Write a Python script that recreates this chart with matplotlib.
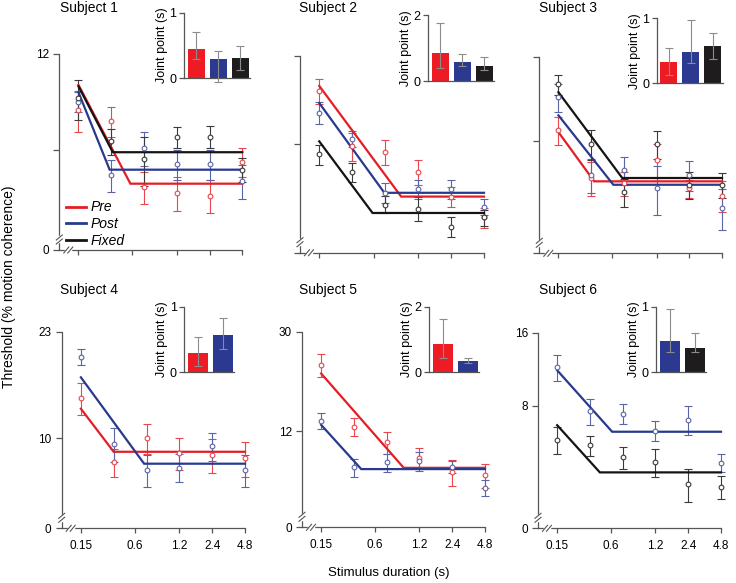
import numpy as np
import matplotlib.pyplot as plt
from matplotlib.lines import Line2D
from matplotlib.ticker import NullLocator

plt.rcParams['font.family'] = ['Liberation Sans', 'DejaVu Sans']

W, H = 736, 583

# stimulus durations (s) and x tick marks as drawn in the original
durations = [0.15, 0.3, 0.6, 1.2, 2.4, 4.8]
tick_pos = [0.15, 0.47, 1.2, 2.4, 4.8]
tick_labels = ['0.15', '0.6', '1.2', '2.4', '4.8']

# ---- Subject 1 (pre, post, fixed)
s1_pre = [8.0, 7.4, 4.6, 4.4, 4.3, 5.5]
s1_pre_err = [1.16, 0.8, 0.53, 0.54, 0.51, 0.58]
s1_post = [8.5, 5.0, 6.1, 5.4, 5.4, 4.8]
s1_post_err = [0.61, 0.56, 0.75, 0.58, 0.58, 0.59]
s1_fixed = [8.7, 6.4, 5.6, 6.6, 6.6, 5.2]
s1_fixed_err = [1.25, 0.6, 0.97, 0.5, 0.52, 0.45]
s1_fit_start = [9.6, 9.1, 9.5]
s1_fit_plateau = [4.7, 5.2, 5.9]
s1_joint = [0.45, 0.29, 0.31]
s1_joint_lo = [0.29, -0.05, 0.12]
s1_joint_hi = [0.70, 0.41, 0.50]

# ---- Subject 2
s2_pre = [7.6, 4.9, 4.7, 4.0, 3.3, 2.8]
s2_pre_err = [0.75, 0.54, 0.46, 0.39, 0.25, 0.22]
s2_post = [6.4, 5.2, 3.4, 3.5, 3.5, 3.05]
s2_post_err = [0.55, 0.33, 0.27, 0.25, 0.27, 0.19]
s2_fixed = [4.6, 4.0, 3.1, 3.0, 2.6, 2.8]
s2_fixed_err = [0.36, 0.31, 0.21, 0.28, 0.21, 0.18]
s2_fit_start = [7.9, 6.9, 5.1]
s2_fit_plateau = [3.3, 3.4, 2.9]
s2_joint = [0.84, 0.59, 0.46]
s2_joint_lo = [0.38, 0.45, 0.33]
s2_joint_hi = [1.77, 0.81, 0.72]

# ---- Subject 3
s3_pre = [5.5, 3.7, 3.55, 4.3, 3.4, 3.2]
s3_pre_err = [0.64, 0.52, 0.35, 0.59, 0.25, 0.40]
s3_post = [7.2, 3.8, 3.95, 3.4, 3.8, 2.9]
s3_post_err = [0.83, 0.54, 0.46, 0.67, 0.47, 0.48]
s3_fixed = [8.0, 4.9, 3.3, 4.9, 3.5, 3.5]
s3_fixed_err = [0.66, 0.61, 0.38, 0.57, 0.38, 0.35]
s3_fit_start = [5.4, 6.2, 7.5]
s3_fit_plateau = [3.6, 3.5, 3.7]
s3_joint = [0.32, 0.48, 0.58]
s3_joint_lo = [0.13, 0.31, 0.37]
s3_joint_hi = [0.54, 0.98, 0.78]

# ---- Subject 4 (pre, post)
s4_pre = [13.7, 8.3, 10.0, 8.9, 8.8, 8.55]
s4_pre_err = [1.71, 0.91, 1.17, 1.11, 1.17, 1.14]
s4_post = [18.9, 9.6, 7.8, 7.96, 9.4, 7.8]
s4_post_err = [1.18, 1.28, 0.98, 0.87, 1.03, 0.98]
s4_fit_start = [12.6, 16.1]
s4_fit_plateau = [9.0, 8.2]
s4_joint = [0.30, 0.57]
s4_joint_lo = [0.10, 0.35]
s4_joint_hi = [0.54, 0.83]

# ---- Subject 5 (pre, post)
s5_pre = [22.1, 12.5, 10.8, 9.4, 8.2, 8.0]
s5_pre_err = [2.34, 1.04, 1.05, 0.87, 0.95, 0.89]
s5_post = [13.2, 8.6, 9.0, 9.1, 8.6, 7.1]
s5_post_err = [0.97, 0.71, 0.75, 0.81, 0.48, 0.52]
s5_fit_start = [20.4, 12.7]
s5_fit_plateau = [8.55, 8.45]
s5_joint = [0.86, 0.35]
s5_joint_lo = [0.45, 0.27]
s5_joint_hi = [1.64, 0.45]

# ---- Subject 6 (post, fixed)
s6_post = [11.5, 7.6, 7.4, 6.3, 7.0, 4.65]
s6_post_err = [1.42, 0.94, 0.70, 0.60, 0.96, 0.40]
s6_fixed = [5.8, 5.5, 4.9, 4.7, 3.8, 3.7]
s6_fixed_err = [0.75, 0.52, 0.51, 0.62, 0.58, 0.41]
s6_fit_start = [11.2, 6.65]
s6_fit_plateau = [6.25, 4.25]
s6_joint = [0.48, 0.37]
s6_joint_lo = [0.31, 0.31]
s6_joint_hi = [0.96, 0.60]

line_col = {'pre': '#e31e25', 'post': '#283a8e', 'fixed': '#141414'}
err_col = {'pre': '#e8474d', 'post': '#5a64a8', 'fixed': '#3a3a3a'}
bar_col = {'pre': '#ed1c24', 'post': '#2b3990', 'fixed': '#1e1c1d'}
axis_col = '#555555'


def rect(l, t, r, b):
    # pixel box -> figure fraction
    return [l / W, 1 - b / H, (r - l) / W, (b - t) / H]


def style_spines(ax):
    for s in ['top', 'right']:
        ax.spines[s].set_visible(False)
    for s in ['left', 'bottom']:
        ax.spines[s].set_color(axis_col)
        ax.spines[s].set_linewidth(0.9)
    ax.tick_params(colors=axis_col, labelcolor='black', width=0.9)


def unclip(container):
    for art in container.get_children():
        art.set_clip_on(False)


def add_breaks(ax, box):
    w = box[2] - box[0]
    h = box[3] - box[1]
    kw = dict(transform=ax.transAxes, clip_on=False, color=axis_col, lw=0.8, zorder=6)
    # y axis break
    ax.plot([0, 0], [8.5 / h, 12.5 / h], transform=ax.transAxes, clip_on=False,
            color='white', lw=2.5, zorder=5)
    for yc in [8.5, 12.5]:
        ax.plot([-3 / w, 3 / w], [(yc - 2.5) / h, (yc + 2.5) / h], **kw)
    # x axis break
    ax.plot([7 / w, 11 / w], [0, 0], transform=ax.transAxes, clip_on=False,
            color='white', lw=2.5, zorder=5)
    for xc in [7, 11]:
        ax.plot([(xc - 2.5) / w, (xc + 2.5) / w], [-3 / h, 3 / h], **kw)


def draw_panel(box, conds, means, errs, starts, plateaus, joints,
               yticks, ylabels, show_xlabels):
    ax = fig.add_axes(rect(*box))
    ax.patch.set_visible(False)
    ax.set_xscale('log', base=2)
    ax.set_yscale('log')
    ax.set_xlim(0.1, 4.8)
    ax.set_ylim(yticks[0], yticks[-1])
    for c, m, e in zip(conds, means, errs):
        eb = ax.errorbar(durations, m, yerr=e, fmt='none', ecolor=err_col[c],
                         elinewidth=0.8, capsize=2.8, capthick=0.8, zorder=2)
        unclip(eb)
    for c, st, jp, pl in zip(conds, starts, joints, plateaus):
        ax.plot([0.15, jp, 4.8], [st, pl, pl], color=line_col[c], lw=1.6,
                zorder=3, solid_joinstyle='miter', clip_on=False)
    for c, m in zip(conds, means):
        ax.plot(durations, m, 'o', ms=3.4, mfc='white', mec=err_col[c],
                mew=0.8, zorder=4, clip_on=False)
    ax.xaxis.set_minor_locator(NullLocator())
    ax.yaxis.set_minor_locator(NullLocator())
    ax.set_xticks(tick_pos)
    ax.set_xticklabels(tick_labels if show_xlabels else [''] * len(tick_pos))
    ax.set_yticks(yticks)
    ax.set_yticklabels(ylabels)
    ax.tick_params(axis='y', length=4.3, pad=3, labelsize=8.5)
    ax.tick_params(axis='x', length=3.6, pad=5, labelsize=8.5)
    style_spines(ax)
    add_breaks(ax, box)
    return ax


def draw_inset(box, conds, vals, lo, hi, top):
    ia = fig.add_axes(rect(*box))
    ia.patch.set_visible(False)
    n = len(conds)
    x = np.arange(n)
    vals = np.array(vals)
    ia.bar(x, vals, width=0.78, color=[bar_col[c] for c in conds], zorder=2)
    eb = ia.errorbar(x, vals, yerr=[vals - np.array(lo), np.array(hi) - vals],
                     fmt='none', ecolor='#8c8c8c', elinewidth=0.8, capsize=3,
                     capthick=0.8, zorder=3)
    unclip(eb)
    ia.set_xlim(-0.55, n - 0.55)
    ia.set_ylim(0, top)
    ia.set_xticks([])
    ia.set_yticks([0, top])
    ia.set_yticklabels(['0', str(top)])
    ia.tick_params(axis='y', length=3.5, pad=2, labelsize=9)
    style_spines(ia)
    ia.set_ylabel('Joint point (s)', fontsize=9, labelpad=1)


fig = plt.figure(figsize=(W / 100, H / 100), dpi=100)

# Subject 1
b1 = (59.3, 54, 242.3, 250)
ax1 = draw_panel(b1, ['pre', 'post', 'fixed'], [s1_pre, s1_post, s1_fixed],
                 [s1_pre_err, s1_post_err, s1_fixed_err], s1_fit_start,
                 s1_fit_plateau, s1_joint, [2.91, 6, 12], ['0', '', '12'], False)
draw_inset((184, 12.7, 250, 78.3), ['pre', 'post', 'fixed'], s1_joint,
           s1_joint_lo, s1_joint_hi, 1)

# Subject 2
b2 = (300, 56, 484, 252.7)
draw_panel(b2, ['pre', 'post', 'fixed'], [s2_pre, s2_post, s2_fixed],
           [s2_pre_err, s2_post_err, s2_fixed_err], s2_fit_start,
           s2_fit_plateau, s2_joint, [2.12, 5, 10], ['', '', ''], False)
draw_inset((428.3, 15, 494.3, 81), ['pre', 'post', 'fixed'], s2_joint,
           s2_joint_lo, s2_joint_hi, 2)

# Subject 3
b3 = (539.3, 57.3, 722, 253.3)
draw_panel(b3, ['pre', 'post', 'fixed'], [s3_pre, s3_post, s3_fixed],
           [s3_pre_err, s3_post_err, s3_fixed_err], s3_fit_start,
           s3_fit_plateau, s3_joint, [1.99, 5, 10], ['', '', ''], False)
draw_inset((656.7, 18.3, 722.7, 83.3), ['pre', 'post', 'fixed'], s3_joint,
           s3_joint_lo, s3_joint_hi, 1)

# Subject 4
b4 = (61.7, 331.7, 245, 528.3)
draw_panel(b4, ['pre', 'post'], [s4_pre, s4_post], [s4_pre_err, s4_post_err],
           s4_fit_start, s4_fit_plateau, s4_joint, [4.95, 10, 23],
           ['0', '10', '23'], True)
draw_inset((184.3, 306.7, 234.3, 372.3), ['pre', 'post'], s4_joint,
           s4_joint_lo, s4_joint_hi, 1)

# Subject 5
b5 = (302, 331.7, 485, 527.3)
draw_panel(b5, ['pre', 'post'], [s5_pre, s5_post], [s5_pre_err, s5_post_err],
           s5_fit_start, s5_fit_plateau, s5_joint, [4.94, 12, 30],
           ['0', '12', '30'], True)
draw_inset((429.3, 306.7, 479.3, 372.3), ['pre', 'post'], s5_joint,
           s5_joint_lo, s5_joint_hi, 2)

# Subject 6
b6 = (538, 332.7, 721, 528.3)
draw_panel(b6, ['post', 'fixed'], [s6_post, s6_fixed], [s6_post_err, s6_fixed_err],
           s6_fit_start, s6_fit_plateau, s6_joint, [2.5, 8, 16],
           ['0', '8', '16'], True)
draw_inset((656, 306.7, 706, 372.3), ['post', 'fixed'], s6_joint,
           s6_joint_lo, s6_joint_hi, 1)

# titles
for i, (x, y) in enumerate([(60, 1), (299.3, 1), (539.3, 1),
                            (60, 283), (299.3, 283), (539.3, 283)]):
    fig.text(x / W, 1 - y / H, 'Subject %d' % (i + 1), fontsize=10, va='top', ha='left')

# legend in subject 1
handles = [Line2D([], [], color=line_col[c], lw=2) for c in ['pre', 'post', 'fixed']]
ax1.legend(handles, ['Pre', 'Post', 'Fixed'], loc='lower left',
           bbox_to_anchor=(66 / W, 1 - 248 / H), bbox_transform=fig.transFigure,
           frameon=False, prop={'style': 'italic', 'size': 10}, handlelength=1.45,
           handletextpad=0.3, labelspacing=0.2, borderpad=0, borderaxespad=0)

fig.text(9 / W, 1 - 287 / H, 'Threshold (% motion coherence)', rotation=90,
         ha='center', va='center', fontsize=10)
fig.text(389 / W, 1 - 573 / H, 'Stimulus duration (s)', ha='center', va='center',
         fontsize=9.5)

fig.savefig('out.png', dpi=100)
